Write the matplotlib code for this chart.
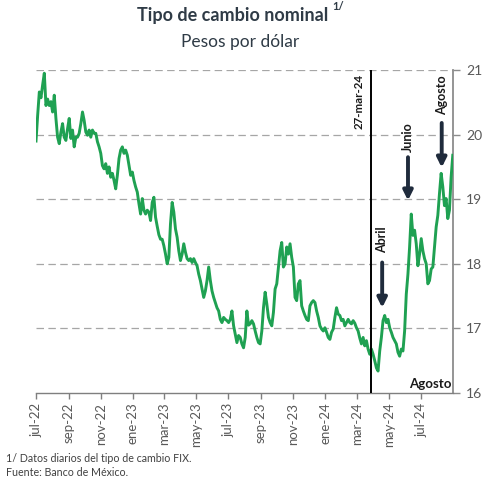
import pandas as pd
import matplotlib.pyplot as plt

plt.rcParams['font.family'] = ['Lato', 'DejaVu Sans']

# tipo de cambio FIX (pesos por dolar), lecturas cada ~3 dias, jul-22 a ago-24
fix = [
    19.90, 20.30, 20.66, 20.57, 20.77, 20.95, 20.45, 20.55, 20.45, 20.51,
    20.35, 20.61, 20.25, 19.96, 19.86, 20.04, 20.17, 19.96, 19.91, 20.09,
    20.25, 19.94, 20.07, 19.81, 19.96, 19.96, 20.02, 20.17, 20.35, 20.22,
    20.04, 19.99, 20.07, 19.96, 20.07, 20.02, 20.02, 19.89, 19.81, 19.71,
    19.52, 19.47, 19.55, 19.40, 19.50, 19.34, 19.40, 19.29, 19.16, 19.37,
    19.63, 19.76, 19.81, 19.71, 19.76, 19.68, 19.52, 19.37, 19.42, 19.29,
    19.19, 19.11, 18.93,
    18.77, 19.01, 18.83, 18.77, 18.83, 18.80, 18.67, 18.95, 19.03, 18.72,
    18.58, 18.45, 18.38, 18.38, 18.28, 18.15, 18.00, 18.10, 18.62, 18.95,
    18.80, 18.54, 18.41, 18.20, 18.05, 18.15, 18.31, 18.18, 18.08, 18.05,
    18.08, 18.02, 18.08, 18.02, 17.97, 17.84, 17.74, 17.61, 17.48, 17.58,
    17.74, 17.95, 17.74, 17.58, 17.48, 17.40, 17.32, 17.27, 17.14, 17.09,
    17.17, 17.14, 17.12, 17.09, 17.14, 17.27, 17.04, 16.91, 16.78, 16.89,
    16.86, 16.76, 16.70, 16.86, 17.27, 17.05,
    17.07, 17.12, 17.07, 16.96, 16.86, 16.78, 16.76, 16.96, 17.32, 17.56,
    17.38, 17.17, 17.09, 17.04, 17.25, 17.61, 17.69, 17.95, 18.20, 18.33,
    17.95, 18.00, 18.26, 18.15, 18.31, 18.10, 17.95, 17.48, 17.43, 17.69,
    17.74, 17.35, 17.27, 17.20, 17.14, 17.12, 17.35, 17.40, 17.43, 17.40,
    17.27, 17.17, 17.04, 16.99, 16.96, 17.01, 16.94, 16.86, 16.83, 16.94,
    16.99, 17.17, 17.32, 17.22, 17.20, 17.12, 17.14, 17.04, 17.09, 17.14,
    17.09, 17.07, 17.12, 17.08, 17.01, 16.96,
    16.85, 16.76, 16.86, 16.73, 16.81, 16.68, 16.60, 16.68, 16.60, 16.50,
    16.39, 16.34, 16.65, 16.86, 17.12, 17.20, 17.09, 17.14, 17.01, 16.94,
    16.86, 16.81, 16.76, 16.63, 16.57, 16.68, 16.65, 16.96, 17.53, 17.84,
    18.26, 18.77, 18.44, 18.52, 18.31, 17.97, 18.15, 18.39, 18.20, 18.08,
    18.00, 17.69, 17.74, 17.92, 17.95, 18.26, 18.57, 18.75, 19.09, 19.40,
    19.19, 18.90, 19.01, 18.70, 18.83, 19.34, 19.68,
]
fechas = pd.date_range("2022-07-01", "2024-08-30", periods=len(fix))

tick_fechas = pd.to_datetime([
    "2022-07-01", "2022-09-01", "2022-11-01", "2023-01-01", "2023-03-01",
    "2023-05-01", "2023-07-01", "2023-09-01", "2023-11-01", "2024-01-01",
    "2024-03-01", "2024-05-01", "2024-07-01",
])
tick_labels = ["jul-22", "sep-22", "nov-22", "ene-23", "mar-23", "may-23",
               "jul-23", "sep-23", "nov-23", "ene-24", "mar-24", "may-24", "jul-24"]
y_ticks = [16, 17, 18, 19, 20, 21]

fecha_corte = pd.Timestamp("2024-03-27")
# (etiqueta, fecha, base del texto, inicio flecha, punta flecha)
flechas = [
    ("Abril", pd.Timestamp("2024-04-18"), 18.16, 18.02, 17.32),
    ("Junio", pd.Timestamp("2024-06-06"), 19.73, 19.65, 18.98),
    ("Agosto", pd.Timestamp("2024-08-09"), 20.30, 20.18, 19.49),
]

fig = plt.figure(figsize=(4.95, 4.84), dpi=100)
ax = fig.add_axes([36 / 495, 1 - 393 / 484, 417.3 / 495, 323 / 484])

ax.plot(fechas, fix, color="#1fa152", lw=2.1, zorder=3)

for v in y_ticks[1:]:
    ax.axhline(v, color="#a6a6a6", lw=0.9, ls=(0, (6, 3.5)), zorder=1)

ax.axvline(fecha_corte, color="black", lw=1.4, zorder=4)
ax.annotate("27-mar-24", xy=(fecha_corte, 21), xytext=(-8, -3),
            textcoords="offset points", rotation=90, ha="center", va="top",
            fontsize=8.3, fontweight="bold", color="#1a1a1a")

for label, fecha, ytxt, y0, y1 in flechas:
    ax.text(fecha, ytxt, label, rotation=90, ha="center", va="bottom",
            fontsize=9, fontweight="bold", color="#1a1a1a")
    ax.annotate("", xy=(fecha, y1), xytext=(fecha, y0),
                arrowprops=dict(arrowstyle="-|>", color="#1f2b3c", lw=2.8,
                                mutation_scale=14, shrinkA=0, shrinkB=0))

ax.text(pd.Timestamp("2024-08-27"), 16.04, "Agosto", ha="right", va="bottom",
        fontsize=9.5, fontweight="bold", color="#1a1a1a")

ax.set_xlim(pd.Timestamp("2022-07-01"), pd.Timestamp("2024-08-31"))
ax.set_ylim(16, 21)

ax.set_xticks(tick_fechas)
ax.set_xticklabels(tick_labels, rotation=90)
ax.yaxis.tick_right()
ax.set_yticks(y_ticks)

for s in ["left", "top"]:
    ax.spines[s].set_visible(False)
ax.spines["right"].set_color("#8c8c8c")
ax.spines["right"].set_linewidth(1.3)
ax.spines["bottom"].set_color("#7f7f7f")
ax.spines["bottom"].set_linewidth(1.0)

ax.tick_params(axis="x", direction="out", length=4, width=1, color="#7f7f7f",
               labelsize=9.5, labelcolor="#595959", pad=3)
ax.tick_params(axis="y", direction="out", length=5, width=1, color="#8c8c8c",
               labelsize=10, labelcolor="#595959", pad=4)

titulo = fig.text(0.47, 0.967, "Tipo de cambio nominal", ha="center", va="center",
                  fontsize=13, fontweight="bold", color="#2f3b46")
fig.text(0.485, 0.913, "Pesos por dólar", ha="center", va="center",
         fontsize=12.5, color="#2f3b46")
ax.annotate("1/", xy=(1, 0.75), xycoords=titulo, xytext=(3, 0),
            textcoords="offset points", ha="left", va="bottom",
            fontsize=8, fontweight="bold", color="#2f3b46")

fig.text(0.012, 1 - 458 / 484, "1/ Datos diarios del tipo de cambio FIX.",
         ha="left", va="center", fontsize=7.7, color="#404040")
fig.text(0.012, 1 - 472 / 484, "Fuente: Banco de México.",
         ha="left", va="center", fontsize=7.7, color="#404040")

fig.savefig("out.png", dpi=100)
